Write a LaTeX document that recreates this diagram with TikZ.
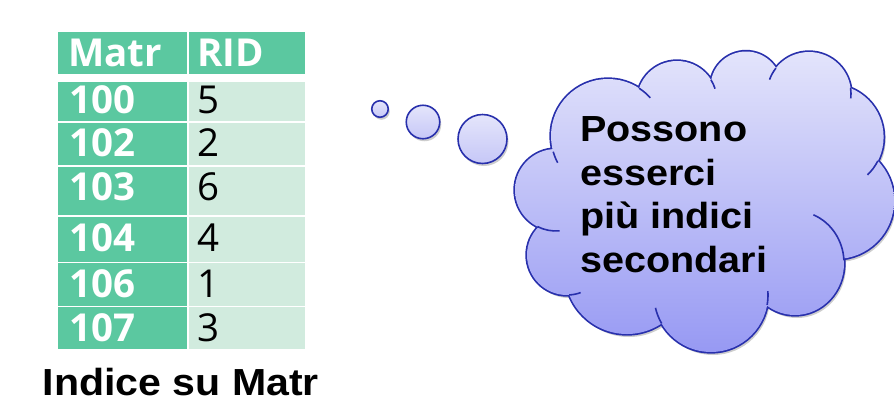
\documentclass[tikz,border=0pt]{standalone}
\usepackage{fontspec}
\setmainfont{Liberation Sans}
\newfontfamily\tabfont{Open Sans}
\newfontfamily\boldsans{Liberation Sans}[FakeStretch=1.09]
\usetikzlibrary{shadows}
\definecolor{tgreen}{RGB}{91,200,160}
\definecolor{tlight}{RGB}{209,235,222}
\definecolor{cborder}{RGB}{40,48,172}
\definecolor{ctop}{RGB}{228,229,251}
\definecolor{cbot}{RGB}{150,152,243}
\definecolor{bbot}{RGB}{198,199,247}
\definecolor{shadowc}{RGB}{205,205,205}
\begin{document}
\begin{tikzpicture}[x=1pt,y=-1pt,
  hdr/.style={anchor=base west, inner sep=0pt, text=white, font=\tabfont\bfseries\fontsize{38.5}{38.5}\selectfont},
  keycell/.style={hdr},
  ridcell/.style={anchor=base west, inner sep=0pt, text=black, font=\tabfont\fontsize{38.5}{38.5}\selectfont},
  cloudtext/.style={anchor=base west, inner sep=0pt, font=\boldsans\bfseries\fontsize{36.3}{43.6}\selectfont},
  bubble/.style={circle, inner sep=0pt, draw=cborder, line width=1.6pt, top color=ctop, bottom color=bbot,
    drop shadow={shadow xshift=1.5pt, shadow yshift=-2.5pt, fill=shadowc, opacity=1}},
  lobes/.style={insert path={
    (556,190) circle[radius=41]
    (608,136) circle[radius=57]
    (677,101) circle[radius=40]
    (746,87) circle[radius=35.5]
    (809,94) circle[radius=42]
    (831,137) circle[radius=52.6]
    (836,201) circle[radius=58]
    (795,263) ellipse[x radius=49, y radius=52]
    (711,295) circle[radius=57]
    (627,272) circle[radius=62]
    (567,255) circle[radius=40]
  }},
  inner/.style={draw=cborder, line width=1.6pt}
]
\useasboundingbox (0,0) rectangle (894,408);

% ---- table ----
\fill[tgreen] (58,32) rectangle (187,74);
\fill[tgreen] (189,32) rectangle (305,74);
\foreach \t/\b in {82/121,123/165,167/215,217/262,263/306,307/349}{
  \fill[tgreen] (58,\t) rectangle (187,\b);
  \fill[tlight] (189,\t) rectangle (305,\b);
}
\node[hdr] (hmatr) at (68,66.7) {Matr};
\node[hdr] (hrid) at (197,66.7) {RID};
\node[keycell] (k1) at (69,113.3) {100};
\node[keycell] (k2) at (69,156.7) {102};
\node[keycell] (k3) at (69,200) {103};
\node[keycell] (k4) at (69,251.7) {104};
\node[keycell] (k5) at (69,297.3) {106};
\node[keycell] (k6) at (69,341.7) {107};
\node[ridcell] (r1) at (197,113.3) {5};
\node[ridcell] (r2) at (197,156.7) {2};
\node[ridcell] (r3) at (197,200) {6};
\node[ridcell] (r4) at (197,251.7) {4};
\node[ridcell] (r5) at (197,297.3) {1};
\node[ridcell] (r6) at (197,341.7) {3};
\node[anchor=base west, inner sep=0pt, font=\boldsans\bfseries\fontsize{37.7}{40}\selectfont] (caption) at (42.5,395) {Indice su Matr};

% ---- thought bubbles ----
\node[bubble, minimum size=16.5pt] (b1) at (380,109) {};
\node[bubble, minimum size=33.5pt] (b2) at (423,122) {};
\node[bubble, minimum size=49pt] (b3) at (482.5,139) {};

% ---- cloud ----
\fill[shadowc, shift={(2,3)}, lobes];
\draw[cborder, line width=3.4pt, lobes];
\begin{scope}
  \clip[lobes] (705,195) ellipse[x radius=150, y radius=110];
  \shade[top color=ctop, bottom color=cbot] (500,48) rectangle (900,356);
\end{scope}
\draw[inner] (608,136) ++(164:57) arc[start angle=164, end angle=152, radius=57];
\draw[inner] (608,136) ++(-57:57) arc[start angle=-57, end angle=-42, radius=57];
\draw[inner] (677,101) ++(-32:40) arc[start angle=-32, end angle=-18, radius=40];
\draw[inner] (809,94) ++(218:42) arc[start angle=218, end angle=200, radius=42];
\draw[inner] (809,94) ++(-8:42) arc[start angle=-8, end angle=6, radius=42];
\draw[inner] (831,137) ++(27:52.6) arc[start angle=27, end angle=46, radius=52.6];
\draw[inner] (795,263) ++({49*cos(-3)},{52*sin(-3)}) arc[start angle=-3, end angle=-68, x radius=49, y radius=52];
\draw[inner] (711,295) ++(10:57) arc[start angle=10, end angle=-4, radius=57];
\draw[inner] (711,295) ++(150:57) arc[start angle=150, end angle=167, radius=57];
\draw[inner] (567,255) ++(87:40) arc[start angle=87, end angle=70, radius=40];
\draw[inner] (556,190) ++(117:41) arc[start angle=117, end angle=85, radius=41];

\node[cloudtext] (t1) at (580,141) {Possono};
\node[cloudtext] (t2) at (580,185) {esserci};
\node[cloudtext] (t3) at (580,228.5) {più indici};
\node[cloudtext] (t4) at (580,272) {secondari};
\end{tikzpicture}
\end{document}
